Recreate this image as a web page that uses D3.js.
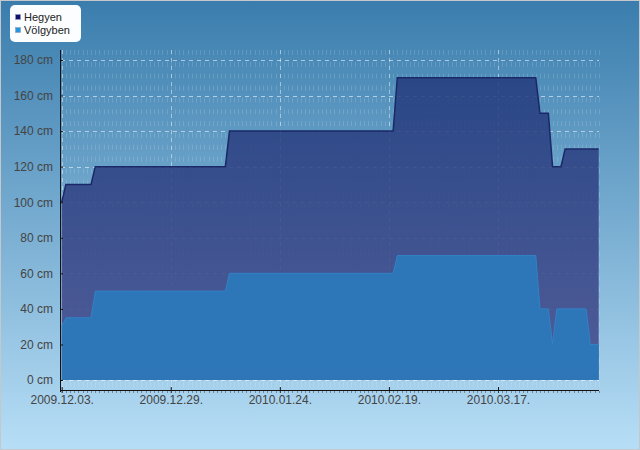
<!DOCTYPE html>
<html>
<head>
<meta charset="utf-8">
<script src="https://cdn.jsdelivr.net/npm/d3@7"></script>
<style>
  html, body { margin: 0; padding: 0; }
  svg { display: block; }
  text { font-family: "Liberation Sans", Arial, sans-serif; }
</style>
</head>
<body>
<div id="chart"></div>
<script>
// Water level chart: Hegyen vs. Völgyben (cm), Dec 2009 - Apr 2010
const seriesNames = ['Hegyen', 'Völgyben'];

const hegyenDates = ['2009-12-03', '2009-12-04', '2009-12-10', '2009-12-11', '2010-01-11', '2010-01-12',
    '2010-02-20', '2010-02-21', '2010-03-26', '2010-03-27', '2010-03-29', '2010-03-30',
    '2010-04-01', '2010-04-02', '2010-04-10'];
const hegyenValues = [100, 110, 110, 120, 120, 140, 140, 170, 170, 150, 150, 120, 120, 130, 130];

const volgybenDates = ['2009-12-03', '2009-12-04', '2009-12-10', '2009-12-11', '2010-01-11', '2010-01-12',
    '2010-02-20', '2010-02-21', '2010-03-26', '2010-03-27', '2010-03-29', '2010-03-30',
    '2010-03-31', '2010-04-07', '2010-04-08', '2010-04-10'];
const volgybenValues = [30, 35, 35, 50, 50, 60, 60, 70, 70, 40, 40, 20, 40, 40, 20, 20];

const xTickDates = ['2009-12-03', '2009-12-29', '2010-01-24', '2010-02-19', '2010-03-17'];
const yTickValues = [0, 20, 40, 60, 80, 100, 120, 140, 160, 180];

const W = 640, H = 450;
const plot = { left: 61, right: 599, top: 50, bottom: 390 };

const parse = d3.timeParse('%Y-%m-%d');
const fmt = d3.timeFormat('%Y.%m.%d.');

const toPoints = (dates, values) => dates.map((d, i) => ({ date: parse(d), value: values[i] }));
const hegyen = toPoints(hegyenDates, hegyenValues);
const volgyben = toPoints(volgybenDates, volgybenValues);

const x = d3.scaleTime()
    .domain([parse('2009-12-03'), parse('2010-04-10')])
    .range([61.7, 598.7]);
const y = d3.scaleLinear()
    .domain([0, 180])
    .range([380, 60]);

const svg = d3.select('#chart').append('svg')
    .attr('width', W)
    .attr('height', H);

const defs = svg.append('defs');
const bg = defs.append('linearGradient')
    .attr('id', 'bg').attr('x1', 0).attr('y1', 0).attr('x2', 0).attr('y2', 1);
bg.append('stop').attr('offset', '0%').attr('stop-color', '#3a7dad');
bg.append('stop').attr('offset', '100%').attr('stop-color', '#b7def6');

const hegyenFill = defs.append('linearGradient')
    .attr('id', 'hegyenFill').attr('gradientUnits', 'userSpaceOnUse')
    .attr('x1', 0).attr('y1', 60).attr('x2', 0).attr('y2', 380);
hegyenFill.append('stop').attr('offset', '0%').attr('stop-color', '#223a7c');
hegyenFill.append('stop').attr('offset', '100%').attr('stop-color', '#434a8c');

// background + border
svg.append('rect')
    .attr('x', 0.5).attr('y', 0.5)
    .attr('width', W - 1).attr('height', H - 1)
    .attr('fill', 'url(#bg)')
    .attr('stroke', '#c4c8cc');

const days = d3.timeDay.range(x.domain()[0], d3.timeDay.offset(x.domain()[1], 1));

// minor vertical grid (one per day)
const grid = svg.append('g').attr('class', 'grid');
grid.selectAll('.minor')
    .data(days)
    .join('line')
    .attr('class', 'minor')
    .attr('x1', d => Math.round(x(d)) + 0.5)
    .attr('x2', d => Math.round(x(d)) + 0.5)
    .attr('y1', plot.top)
    .attr('y2', plot.bottom)
    .attr('stroke', '#ffffff')
    .attr('stroke-opacity', 0.14)
    .attr('stroke-dasharray', '5,6.85');

// major horizontal grid
grid.selectAll('.hmajor')
    .data(yTickValues)
    .join('line')
    .attr('class', 'hmajor')
    .attr('x1', plot.left)
    .attr('x2', plot.right)
    .attr('y1', d => Math.round(y(d)) + 0.5)
    .attr('y2', d => Math.round(y(d)) + 0.5)
    .attr('stroke', '#ffffff')
    .attr('stroke-opacity', 0.55)
    .attr('stroke-dasharray', '4,4');

// major vertical grid
grid.selectAll('.vmajor')
    .data(xTickDates.map(parse))
    .join('line')
    .attr('class', 'vmajor')
    .attr('x1', d => Math.round(x(d)) + 0.5)
    .attr('x2', d => Math.round(x(d)) + 0.5)
    .attr('y1', plot.top)
    .attr('y2', plot.bottom)
    .attr('stroke', '#ffffff')
    .attr('stroke-opacity', 0.45)
    .attr('stroke-dasharray', '4,4');

// areas
const area = d3.area()
    .x(d => x(d.date))
    .y0(y(0))
    .y1(d => y(d.value));
const line = d3.line()
    .x(d => x(d.date))
    .y(d => y(d.value));

svg.append('path')
    .datum(hegyen)
    .attr('d', area)
    .attr('fill', 'url(#hegyenFill)')
    .attr('fill-opacity', 0.86);
svg.append('path')
    .datum(hegyen)
    .attr('d', line)
    .attr('fill', 'none')
    .attr('stroke', '#1a2868')
    .attr('stroke-width', 1.5);

svg.append('path')
    .datum(volgyben)
    .attr('d', area)
    .attr('fill', '#2c78ba')
    .attr('fill-opacity', 0.94);
svg.append('path')
    .datum(volgyben)
    .attr('d', line)
    .attr('fill', 'none')
    .attr('stroke', '#3282c6')
    .attr('stroke-width', 1);

// axes
const xAxis = svg.append('g')
    .attr('transform', `translate(0,${plot.bottom})`)
    .call(d3.axisBottom(x)
        .tickValues(xTickDates.map(parse))
        .tickFormat(fmt)
        .tickSize(3)
        .tickPadding(2));
xAxis.select('.domain').remove();
xAxis.append('line')
    .attr('x1', plot.left).attr('x2', plot.right)
    .attr('y1', 0.5).attr('y2', 0.5)
    .attr('stroke', '#111');
xAxis.selectAll('.tick line').attr('y1', -3).attr('stroke', '#111');
xAxis.selectAll('.tick text')
    .attr('font-size', '12px')
    .attr('font-family', '"Liberation Sans", Arial, sans-serif')
    .attr('fill', '#444');
xAxis.selectAll('.minortick')
    .data(days)
    .join('line')
    .attr('class', 'minortick')
    .attr('x1', d => Math.round(x(d)) + 0.5)
    .attr('x2', d => Math.round(x(d)) + 0.5)
    .attr('y1', 1)
    .attr('y2', 3)
    .attr('stroke', '#555')
    .attr('stroke-opacity', 0.6);

const yAxis = svg.append('g')
    .attr('transform', `translate(${plot.left},0)`)
    .call(d3.axisLeft(y)
        .tickValues(yTickValues)
        .tickFormat(d => d + ' cm')
        .tickSize(3)
        .tickPadding(5));
yAxis.select('.domain').remove();
yAxis.append('line')
    .attr('x1', -0.5).attr('x2', -0.5)
    .attr('y1', plot.top).attr('y2', plot.bottom + 2)
    .attr('stroke', '#111');
yAxis.selectAll('.tick line').attr('x2', 2).attr('stroke', '#111');
yAxis.selectAll('.tick text')
    .attr('font-size', '12px')
    .attr('font-family', '"Liberation Sans", Arial, sans-serif')
    .attr('fill', '#444');

// legend
const legendColors = ['#10106a', '#2596de'];
const legend = svg.append('g').attr('transform', 'translate(10,5)');
legend.append('rect')
    .attr('width', 71).attr('height', 37)
    .attr('rx', 5)
    .attr('fill', '#fbfdff');
const items = legend.selectAll('.item')
    .data(seriesNames)
    .join('g')
    .attr('class', 'item')
    .attr('transform', (d, i) => `translate(0,${i * 13})`);
items.append('rect')
    .attr('x', 5.5).attr('y', 9.5)
    .attr('width', 5).attr('height', 5)
    .attr('fill', (d, i) => legendColors[i])
    .attr('stroke', '#8aa0b8')
    .attr('stroke-width', 0.6);
items.append('text')
    .attr('x', 14)
    .attr('y', 15.5)
    .attr('font-size', '11px')
    .attr('fill', '#222')
    .text(d => d);
</script>
</body>
</html>
